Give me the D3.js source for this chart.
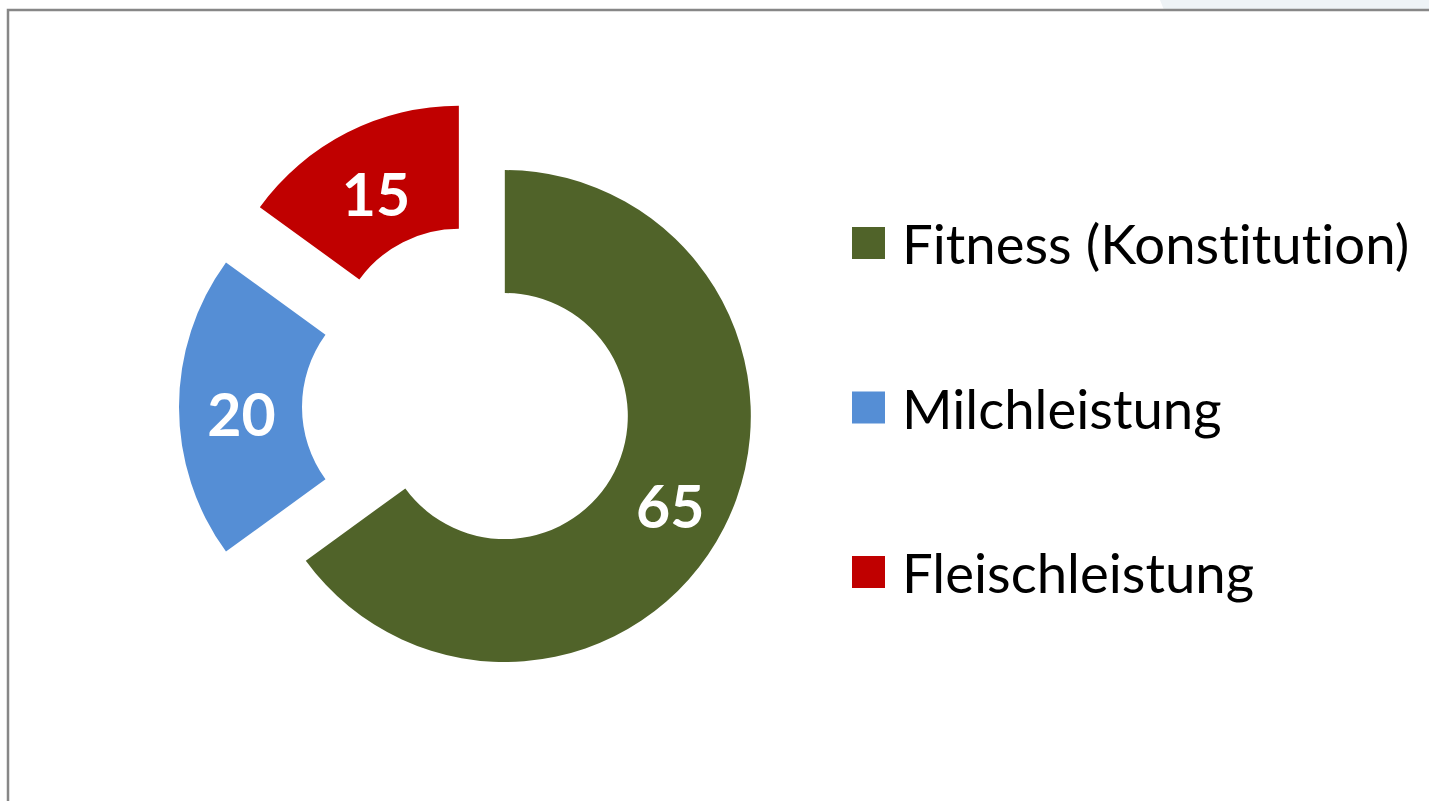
<!DOCTYPE html>
<html lang="de">
  <head>
    <meta charset="utf-8">
    <title>Zuchtziel Gewichtung</title>
    <style>
      html, body { margin: 0; padding: 0; background: #fff; overflow: hidden; }
      svg { display: block; }
      text { font-variant-ligatures: none; }
    </style>
  </head>
  <body>
    <div class="chart"></div>

    <script src="https://cdn.jsdelivr.net/npm/d3@7/dist/d3.min.js"></script>
    <script type="text/javascript">
      // data
      var categories = ["Fitness (Konstitution)", "Milchleistung", "Fleischleistung"];
      var values = [65, 20, 15];
      var colors = ["#506329", "#558ed5", "#c00000"];

      var width = 1429,
          height = 801;

      // doughnut geometry
      var cx = 487, cy = 407,
          outerR = 246, innerR = 123;
      var explode = [20, 62, 62];

      var svg = d3.select(".chart")
        .append("svg")
          .attr("width", width)
          .attr("height", height);

      // bit of the page behind the chart frame
      svg.append("path")
          .attr("d", "M1160,0 L1429,0 L1429,10 L1164,10 Z")
          .attr("fill", "#eef3f6");

      // chart frame
      svg.append("rect")
          .attr("x", 8)
          .attr("y", 10)
          .attr("width", width + 20)
          .attr("height", height + 20)
          .attr("fill", "#fff")
          .attr("stroke", "#878787")
          .attr("stroke-width", 2.5);

      var pie = d3.pie()
          .sort(null)
          .value(function(d) { return d; });

      var arc = d3.arc()
          .innerRadius(innerR)
          .outerRadius(outerR);

      var arcs = pie(values);

      var slice = svg.append("g")
          .attr("class", "slices")
          .selectAll("g")
          .data(arcs)
          .enter().append("g")
          .attr("transform", function(d, i) {
            var mid = (d.startAngle + d.endAngle) / 2;
            var dx = Math.sin(mid) * explode[i],
                dy = -Math.cos(mid) * explode[i];
            return "translate(" + (cx + dx) + "," + (cy + dy) + ")";
          });

      slice.append("path")
          .attr("d", arc)
          .attr("fill", function(d, i) { return colors[i]; });

      slice.append("text")
          .attr("transform", function(d) {
            var c = arc.centroid(d);
            return "translate(" + (c[0] + 1) + "," + (c[1] + 6) + ")";
          })
          .attr("text-anchor", "middle")
          .attr("dominant-baseline", "central")
          .attr("font-family", "Lato, 'Open Sans', sans-serif")
          .attr("font-weight", "bold")
          .attr("font-size", 59)
          .attr("fill", "#fff")
          .text(function(d) { return d.data; });

      // legend
      var legendY = d3.scalePoint()
          .domain(categories)
          .range([243, 572]);

      var legend = svg.append("g")
          .attr("class", "legend")
          .selectAll("g")
          .data(categories)
          .enter().append("g")
          .attr("transform", function(d) { return "translate(852," + legendY(d) + ")"; });

      legend.append("rect")
          .attr("x", 0)
          .attr("y", -16)
          .attr("width", 33)
          .attr("height", 32)
          .attr("fill", function(d, i) { return colors[i]; });

      legend.append("text")
          .attr("x", 50)
          .attr("y", 0)
          .attr("dominant-baseline", "central")
          .attr("font-family", "Lato, 'Open Sans', sans-serif")
          .attr("font-size", 54.5)
          .attr("fill", "#000")
          .text(function(d) { return d; });
    </script>
  </body>
</html>
